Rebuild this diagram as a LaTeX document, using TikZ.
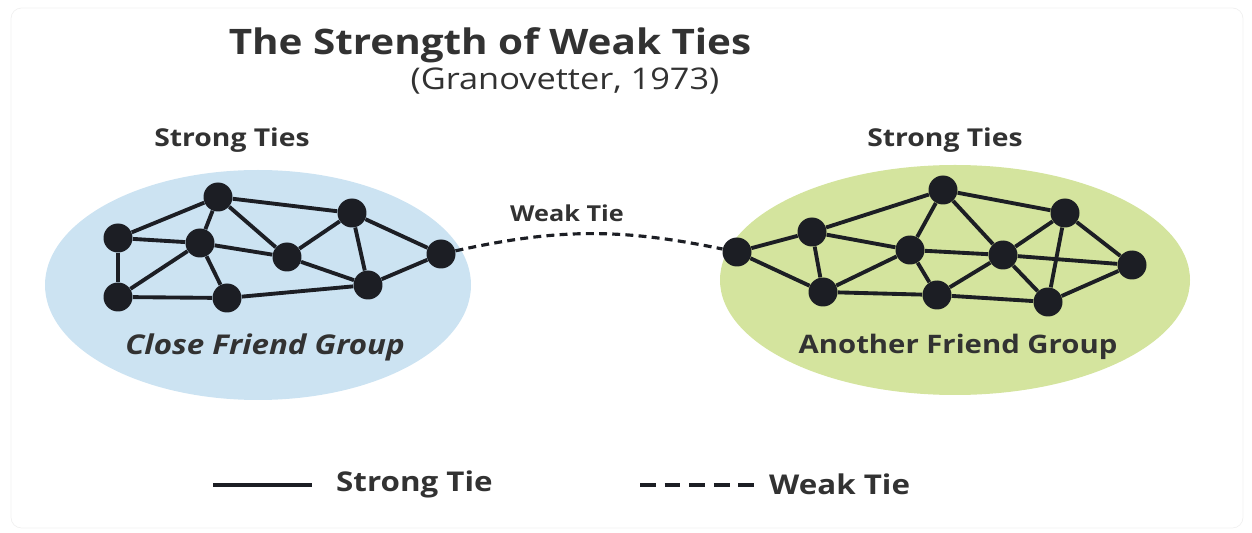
\documentclass[tikz,border=0pt]{standalone}
\usepackage{fontspec}
\setmainfont{Open Sans}[FakeStretch=1.15]
\usetikzlibrary{positioning}
\definecolor{closeblue}{RGB}{204,227,242}
\definecolor{othergreen}{RGB}{212,228,158}
\definecolor{nodeblack}{RGB}{28,30,36}
\definecolor{inkgray}{RGB}{50,50,50}

\begin{document}
\begin{tikzpicture}[x=0.02cm, y=-0.02cm,
    friend/.style={circle, fill=nodeblack, inner sep=0pt, minimum size=0.58cm},
    strongtie/.style={line width=2.2pt, draw=nodeblack},
    weaktie/.style={line width=1.8pt, draw=nodeblack, dash pattern=on 4.5pt off 3pt},
    lbl/.style={text=inkgray, font=\bfseries\fontsize{14}{16}\selectfont},
    keylbl/.style={text=inkgray, font=\bfseries\fontsize{15.5}{18}\selectfont, anchor=west}]
    \useasboundingbox (0,0) rectangle (1252,533);
    \draw[gray!12, rounded corners=6pt] (11,8) rectangle (1243,528);

    % the two groups
    \fill[closeblue] (258,285) ellipse [x radius=213, y radius=115];
    \fill[othergreen] (955,280) ellipse [x radius=235, y radius=115];

    % titles
    \node[text=inkgray, font=\bfseries\fontsize{20}{24}\selectfont] (title) at (490,45) {The Strength of Weak Ties};
    \node[text=inkgray, font=\fontsize{17}{20}\selectfont] (cite) at (565,81) {(Granovetter, 1973)};

    % close friend group
    \node[friend] (l1) at (118,238) {};
    \node[friend] (l2) at (218,197) {};
    \node[friend] (l3) at (200,243) {};
    \node[friend] (l4) at (352,213) {};
    \node[friend] (l5) at (287,257) {};
    \node[friend] (l6) at (441,254) {};
    \node[friend] (l7) at (118,297) {};
    \node[friend] (l8) at (227,298) {};
    \node[friend] (l9) at (368,285) {};
    \foreach \u/\v in {l1/l2, l1/l3, l1/l7, l2/l3, l2/l5, l2/l4, l3/l5, l3/l7, l3/l8,
                       l5/l4, l5/l9, l4/l9, l4/l6, l9/l6, l7/l8, l8/l9}
        \draw[strongtie] (\u) -- (\v);

    % another friend group
    \node[friend] (r1) at (737,252) {};
    \node[friend] (r2) at (812,232) {};
    \node[friend] (r3) at (943,190) {};
    \node[friend] (r4) at (1065,213) {};
    \node[friend] (r5) at (910,250) {};
    \node[friend] (r6) at (1003,255) {};
    \node[friend] (r7) at (1132,265) {};
    \node[friend] (r8) at (823,292) {};
    \node[friend] (r9) at (937,295) {};
    \node[friend] (r10) at (1048,302) {};
    \foreach \u/\v in {r1/r2, r1/r8, r2/r3, r2/r5, r2/r8, r3/r5, r3/r6, r3/r4, r5/r8, r5/r6,
                       r5/r9, r6/r9, r6/r4, r6/r10, r6/r7, r4/r10, r4/r7, r10/r7, r9/r10, r8/r9}
        \draw[strongtie] (\u) -- (\v);

    % the bridge
    \draw[weaktie] (l6) to[bend left=12] (r1);
    \node[lbl, font=\bfseries\fontsize{12.5}{15}\selectfont] (weaklbl) at (567,213) {Weak Tie};

    \node[lbl] (strongl) at (232,140) {Strong Ties};
    \node[lbl] (strongr) at (945,140) {Strong Ties};
    \node[text=inkgray, font=\bfseries\itshape\fontsize{15.5}{18}\selectfont] (closelbl) at (265,347) {Close Friend Group};
    \node[text=inkgray, font=\bfseries\fontsize{14.5}{17}\selectfont] (otherlbl) at (958,347) {Another Friend Group};

    % legend
    \coordinate (s1) at (213,485);
    \coordinate (s2) at (312,485);
    \draw[nodeblack, line width=2.8pt] (s1) -- (s2);
    \node[keylbl] (strongkey) at (330,484) {Strong Tie};
    \coordinate (w1) at (640,485);
    \coordinate (w2) at (755,485);
    \draw[nodeblack, line width=1.8pt, dash pattern=on 9pt off 5pt] (w1) -- (w2);
    \node[keylbl] (weakkey) at (763,484) {Weak Tie};
\end{tikzpicture}
\end{document}
